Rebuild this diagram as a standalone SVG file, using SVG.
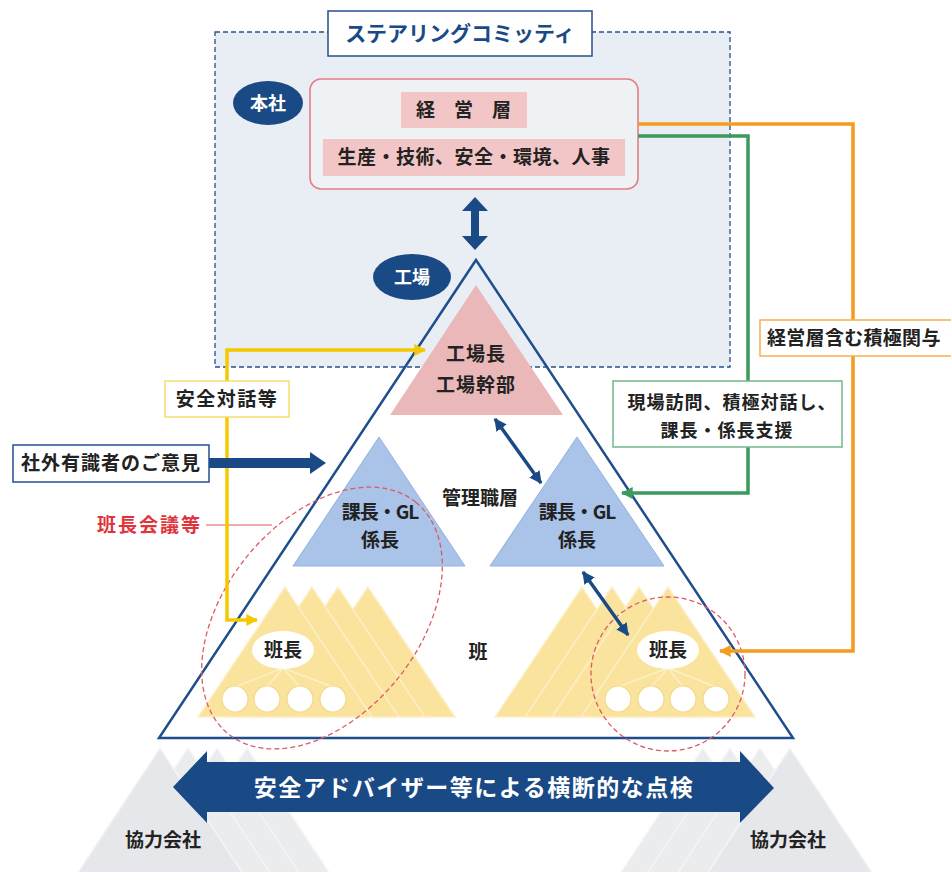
<svg xmlns="http://www.w3.org/2000/svg" width="951" height="872" viewBox="0 0 951 872">
<defs>
<style>
.t{font-family:"Noto Sans CJK JP","Noto Sans",sans-serif;font-weight:700;fill:#222;}
.m{text-anchor:middle;}
.nv{fill:#1a4a86;}
.ytri{fill:#f9e39d;stroke:#fdf0c8;stroke-width:1.5;}
.gtri{fill:#ebecee;stroke:#f4f5f6;stroke-width:1.5;}
.btri{fill:#a9c3e9;stroke:#94b2de;stroke-width:1;}
.circ{fill:#fff;stroke:#f3d98a;stroke-width:1.2;}
.spk{stroke:#fdf0c6;stroke-width:1.5;fill:none;}
.rd{fill:none;stroke:#df5a62;stroke-width:1.3;stroke-dasharray:5 3;}
</style>
<marker id="mNv" viewBox="0 0 10 10" refX="9" refY="5" markerWidth="3.6" markerHeight="3.6" orient="auto-start-reverse"><path d="M0,0 L10,5 L0,10 z" fill="#1a4a86"/></marker>
<marker id="mY" viewBox="0 0 10 10" refX="9" refY="5" markerWidth="3.4" markerHeight="3.4" orient="auto-start-reverse"><path d="M0,0 L10,5 L0,10 z" fill="#f5c800"/></marker>
<marker id="mO" viewBox="0 0 10 10" refX="9" refY="5" markerWidth="3.4" markerHeight="3.4" orient="auto"><path d="M0,0 L10,5 L0,10 z" fill="#f39c1e"/></marker>
<marker id="mG" viewBox="0 0 10 10" refX="9" refY="5" markerWidth="3.4" markerHeight="3.4" orient="auto"><path d="M0,0 L10,5 L0,10 z" fill="#3b9a5c"/></marker>
</defs>
<rect width="951" height="872" fill="#fff"/>

<!-- partner companies (gray) -->
<g id="partners-left">
<polygon class="gtri" points="247,748 160,880 334,880"/>
<polygon class="gtri" points="217,748 130,880 304,880"/>
<polygon class="gtri" points="188,748 101,880 275,880"/>
<polygon class="gtri" points="160,748 73,880 247,880" style="fill:#e6e7ea"/>
<text class="t m" x="163" y="847" font-size="19">協力会社</text>
</g>
<g id="partners-right">
<polygon class="gtri" points="703,748 616,880 790,880"/>
<polygon class="gtri" points="730,748 643,880 817,880"/>
<polygon class="gtri" points="760,748 673,880 847,880"/>
<polygon class="gtri" points="790,748 703,880 877,880" style="fill:#e6e7ea"/>
<text class="t m" x="788" y="847" font-size="19">協力会社</text>
</g>

<!-- steering committee -->
<g id="steering">
<rect x="215" y="32" width="515" height="335" fill="#e8eef3" stroke="#24508a" stroke-width="1.3" stroke-dasharray="5 3"/>
<rect x="328" y="11" width="264" height="45" fill="#fff" stroke="#24508a" stroke-width="1.5"/>
<text class="t m" x="460" y="41" font-size="21" style="fill:#1a4a86">ステアリングコミッティ</text>
</g>

<g id="honsha">
<ellipse cx="268" cy="103" rx="35" ry="22" class="nv"/>
<text class="t m" x="268" y="110" font-size="18" style="fill:#fff">本社</text>
</g>

<g id="management">
<rect x="310" y="79" width="328" height="110" rx="11" fill="#eef2f5" stroke="#e37f86" stroke-width="1.6"/>
<rect x="401" y="92" width="126" height="36" fill="#f2c6c6"/>
<text class="t" x="416 454 492" y="117" font-size="19">経営層</text>
<rect x="323" y="139" width="302" height="37" fill="#f2c6c6"/>
<text class="t m" x="474" y="164" font-size="19" letter-spacing="0.5">生産・技術、安全・環境、人事</text>
</g>

<g id="vertical-arrow">
<polygon class="nv" points="475,197 488,211 479,211 479,236 488,236 475,250 462,236 471,236 471,211 462,211"/>
</g>

<!-- factory pyramid -->
<g id="factory-pyramid">
<polygon points="476,260 159,738 793,738" fill="none" stroke="#1f4e8c" stroke-width="2.5"/>
</g>

<g id="kojo">
<ellipse cx="412" cy="277" rx="39" ry="23" class="nv"/>
<text class="t m" x="412" y="284" font-size="18" style="fill:#fff">工場</text>
</g>

<g id="plant-managers">
<polygon points="476,285 390,415 563,415" fill="#ebb8ba"/>
<text class="t m" x="476" y="361" font-size="19" letter-spacing="1">工場長</text>
<text class="t m" x="476" y="392" font-size="19" letter-spacing="1">工場幹部</text>
</g>

<g id="managers-left">
<polygon class="btri" points="379,437 293,566 465,566"/>
<text class="t m" x="380" y="519" font-size="19" letter-spacing="-1">課長・GL</text>
<text class="t m" x="380" y="547" font-size="19">係長</text>
</g>
<g id="managers-right">
<polygon class="btri" points="577,437 490,566 664,566"/>
<text class="t m" x="577" y="519" font-size="19" letter-spacing="-1">課長・GL</text>
<text class="t m" x="577" y="547" font-size="19">係長</text>
</g>
<text class="t m" x="480" y="505" font-size="19">管理職層</text>

<g id="team-left">
<polygon class="ytri" points="368,587 281,717 455,717"/>
<polygon class="ytri" points="338,587 251,717 425,717"/>
<polygon class="ytri" points="312,587 225,717 399,717"/>
<polygon class="ytri" points="285,587 198,717 372,717"/>
<path class="spk" d="M283,668 L235,687 M283,668 L267,687 M283,668 L300,687 M283,668 L333,687"/>
<circle class="circ" cx="235" cy="699" r="13"/>
<circle class="circ" cx="267" cy="699" r="13"/>
<circle class="circ" cx="300" cy="699" r="13"/>
<circle class="circ" cx="333" cy="699" r="13"/>
<ellipse cx="283" cy="650" rx="31" ry="19" fill="#fff"/>
<text class="t m" x="283" y="657" font-size="19">班長</text>
</g>
<g id="team-right">
<polygon class="ytri" points="582,587 495,717 669,717"/>
<polygon class="ytri" points="612,587 525,717 699,717"/>
<polygon class="ytri" points="639,587 552,717 726,717"/>
<polygon class="ytri" points="668,587 581,717 755,717"/>
<path class="spk" d="M668,668 L618,687 M668,668 L651,687 M668,668 L683,687 M668,668 L716,687"/>
<circle class="circ" cx="618" cy="699" r="13"/>
<circle class="circ" cx="651" cy="699" r="13"/>
<circle class="circ" cx="683" cy="699" r="13"/>
<circle class="circ" cx="716" cy="699" r="13"/>
<ellipse cx="668" cy="650" rx="31" ry="19" fill="#fff"/>
<text class="t m" x="668" y="657" font-size="19">班長</text>
</g>
<text class="t m" x="478" y="659" font-size="19">班</text>

<!-- meeting circles -->
<g id="meetings">
<ellipse class="rd" cx="322" cy="618" rx="149" ry="97" transform="rotate(-51 322 618)"/>
<circle class="rd" cx="668" cy="674" r="77"/>
<line x1="206" y1="525" x2="272" y2="525" stroke="#df5a62" stroke-width="1.2"/>
<text class="t" x="97" y="532" font-size="19" letter-spacing="2" style="fill:#e0343c">班長会議等</text>
</g>

<!-- connectors -->
<g id="connectors">
<path d="M425,350 H227 V620 H257" fill="none" stroke="#f5c800" stroke-width="3.5" marker-start="url(#mY)" marker-end="url(#mY)"/>
<path d="M638,124 H853 V651 H720" fill="none" stroke="#f39c1e" stroke-width="3.5" marker-end="url(#mO)"/>
<path d="M638,136 H748 V493 H622" fill="none" stroke="#3b9a5c" stroke-width="3.5" marker-end="url(#mG)"/>
<line x1="495" y1="419" x2="541" y2="483" stroke="#1a4a86" stroke-width="3.5" marker-start="url(#mNv)" marker-end="url(#mNv)"/>
<line x1="583" y1="572" x2="628" y2="635" stroke="#1a4a86" stroke-width="3.5" marker-start="url(#mNv)" marker-end="url(#mNv)"/>
<polygon class="nv" points="209,458 310,458 310,452 326,463 310,474 310,468 209,468"/>
</g>

<g id="label-anzen">
<rect x="165" y="381" width="124" height="36" fill="#fff" stroke="#f6dc70" stroke-width="1.5"/>
<text class="t m" x="227" y="406" font-size="19" letter-spacing="1.5">安全対話等</text>
</g>
<g id="label-outside">
<rect x="13" y="445" width="196" height="37" fill="#fff" stroke="#24508a" stroke-width="1.5"/>
<text class="t m" x="111" y="470" font-size="19" letter-spacing="1">社外有識者のご意見</text>
</g>
<g id="label-green">
<rect x="613" y="381" width="229" height="66" fill="#fff" stroke="#72b88a" stroke-width="1.5"/>
<text class="t m" x="732" y="409" font-size="18" letter-spacing="1">現場訪問、積極対話し、</text>
<text class="t m" x="727" y="437" font-size="18" letter-spacing="1">課長・係長支援</text>
</g>
<g id="label-orange">
<rect x="760" y="320" width="200" height="36" fill="#fff" stroke="#f6b04c" stroke-width="1.5"/>
<text class="t" x="767" y="345" font-size="19" letter-spacing="0.3">経営層含む積極関与</text>
</g>

<!-- cross inspection -->
<g id="inspection-arrow">
<polygon class="nv" points="173,787 207,751 207,762 740,762 740,751 774,788 740,823 740,812 207,812 207,823"/>
<text class="t m" x="474" y="796" font-size="23" letter-spacing="1.5" style="fill:#fff">安全アドバイザー等による横断的な点検</text>
</g>
</svg>
